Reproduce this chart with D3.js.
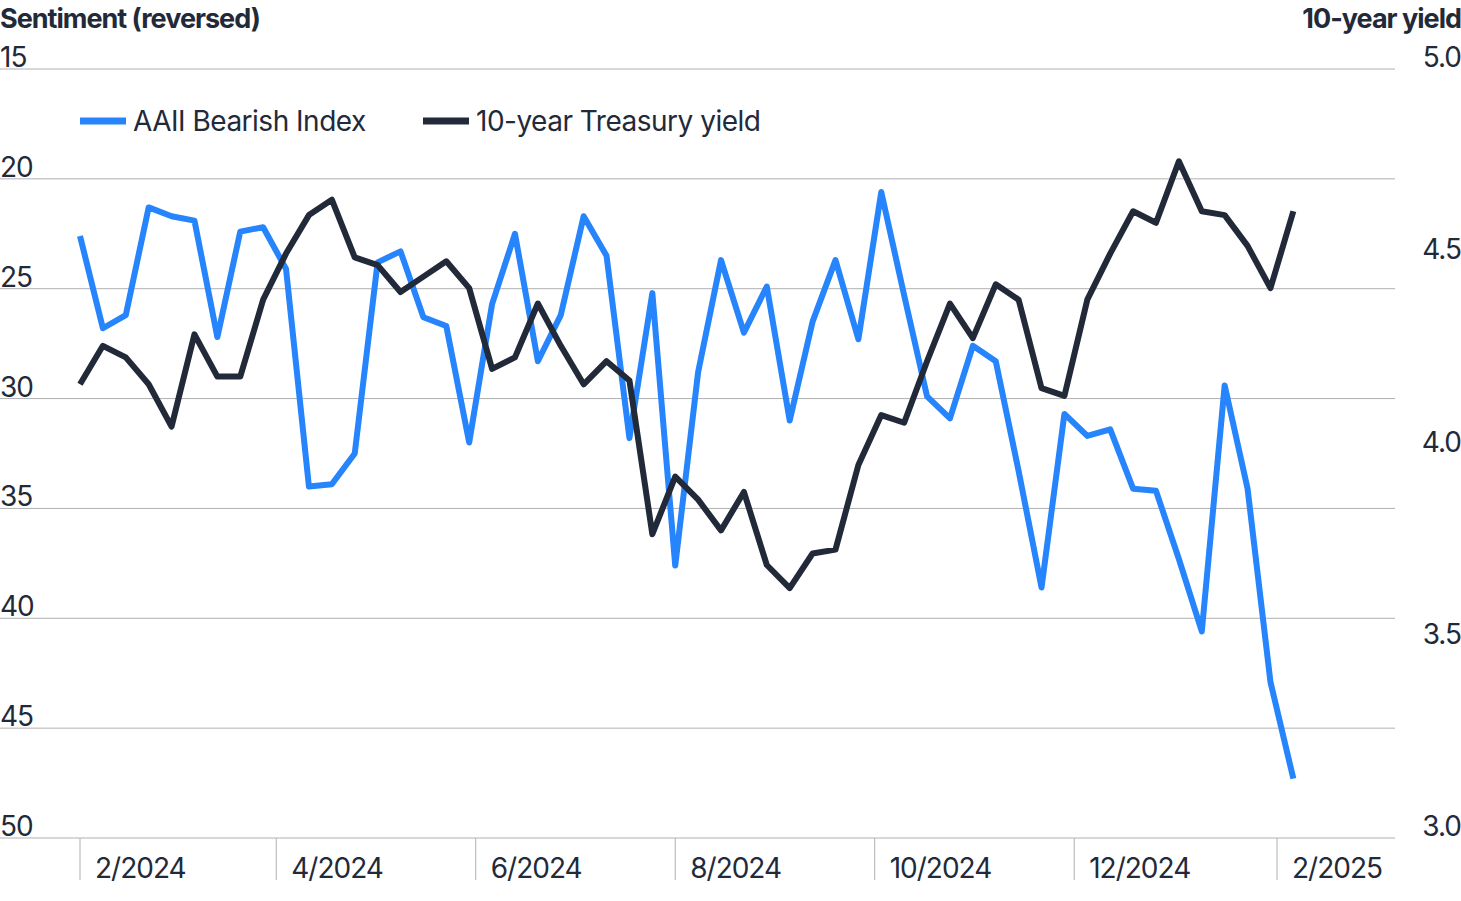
<!DOCTYPE html><html><head><meta charset="utf-8">
<script src="https://cdn.jsdelivr.net/npm/d3@7"></script>
<style>body{margin:0;background:#fff}svg{font-family:Inter,"Noto Sans",sans-serif}</style></head><body>
<svg id="c" width="1461" height="901"></svg>
<script>
const startDate="2024-02-01";
const bearish=[22.6,26.8,26.2,21.3,21.7,21.9,27.2,22.4,22.2,24.1,34.0,33.9,32.5,23.8,23.3,26.3,26.7,32.0,25.7,22.5,28.3,26.2,21.7,23.5,31.8,25.2,37.6,28.8,23.7,27.0,24.9,31.0,26.5,23.7,27.3,20.6,25.3,29.9,30.9,27.6,28.3,33.3,38.6,30.7,31.7,31.4,34.1,34.2,37.3,40.6,29.4,34.1,42.9,47.3];
const yield10=[4.18,4.28,4.25,4.18,4.07,4.31,4.20,4.20,4.40,4.52,4.62,4.66,4.51,4.49,4.42,4.46,4.50,4.43,4.22,4.25,4.39,4.28,4.18,4.24,4.19,3.79,3.94,3.88,3.80,3.90,3.71,3.65,3.74,3.75,3.97,4.10,4.08,4.24,4.39,4.30,4.44,4.40,4.17,4.15,4.40,4.52,4.63,4.60,4.76,4.63,4.62,4.54,4.43,4.63];
const leftTicks=[15,20,25,30,35,40,45,50];
const rightTicks=[5.0,4.5,4.0,3.5,3.0];
const xTickDates=["2024-02-01","2024-04-01","2024-06-01","2024-08-01","2024-10-01","2024-12-01","2025-02-01"];
const xTickLabels=["2/2024","4/2024","6/2024","8/2024","10/2024","12/2024","2/2025"];
const seriesNames=["AAII Bearish Index","10-year Treasury yield"];
const colors=["#2684fc","#222a3a"];

const svg=d3.select("#c");
const p=d3.timeParse("%Y-%m-%d");
const t0=p(startDate);
const dates=bearish.map((_,i)=>d3.timeDay.offset(t0,7*i));
const x=d3.scaleTime().domain([p(xTickDates[0]),p(xTickDates[6])]).range([80,1277]);
const yL=d3.scaleLinear().domain([15,50]).range([69,838]);
const yR=d3.scaleLinear().domain([5,3]).range([69,838]);

svg.append("g").selectAll("line").data(leftTicks).join("line")
 .attr("x1",0).attr("x2",1395).attr("y1",d=>yL(d)).attr("y2",d=>yL(d)).attr("stroke","#b0b0b0").attr("stroke-width",1);
svg.append("g").selectAll("text").data(leftTicks).join("text")
 .attr("x",0).attr("y",d=>yL(d)-2).text(d=>d).attr("font-size",28).attr("fill","#222a3a").attr("letter-spacing","-1");
svg.append("g").selectAll("text").data(rightTicks).join("text")
 .attr("x",1461).attr("text-anchor","end").attr("y",d=>yR(d)-2).text(d=>d.toFixed(1)).attr("font-size",28).attr("fill","#222a3a").attr("letter-spacing","-1");
svg.append("g").selectAll("line").data(xTickDates).join("line")
 .attr("x1",d=>x(p(d))).attr("x2",d=>x(p(d))).attr("y1",838).attr("y2",880).attr("stroke","#b0b0b0");
svg.append("g").selectAll("text").data(xTickDates).join("text")
 .attr("x",d=>x(p(d))+15).attr("y",878).text((d,i)=>xTickLabels[i]).attr("font-size",28).attr("fill","#222a3a").attr("letter-spacing","-1");
svg.append("text").attr("x",0).attr("y",28).text("Sentiment (reversed)").attr("font-size",27).attr("font-weight",700).attr("fill","#222a3a").attr("letter-spacing","-1");
svg.append("text").attr("x",1461).attr("text-anchor","end").attr("y",28).text("10-year yield").attr("font-size",27).attr("font-weight",700).attr("fill","#222a3a").attr("letter-spacing","-1");

const lineL=d3.line().x((d,i)=>x(dates[i])).y(d=>yL(d));
const lineR=d3.line().x((d,i)=>x(dates[i])).y(d=>yR(d));
svg.append("path").attr("d",lineL(bearish)).attr("fill","none").attr("stroke",colors[0]).attr("stroke-width",6).attr("stroke-linejoin","round");
svg.append("path").attr("d",lineR(yield10)).attr("fill","none").attr("stroke",colors[1]).attr("stroke-width",6).attr("stroke-linejoin","round");

const lg=[[80,seriesNames[0]],[423,seriesNames[1]]];
lg.forEach(([lx,n],i)=>{
 svg.append("line").attr("x1",lx).attr("x2",lx+46).attr("y1",121).attr("y2",121).attr("stroke",colors[i]).attr("stroke-width",7);
 svg.append("text").attr("x",lx+53).attr("y",131).text(n).attr("font-size",28).attr("fill","#222a3a").attr("letter-spacing","-0.5");
});
</script></body></html>
